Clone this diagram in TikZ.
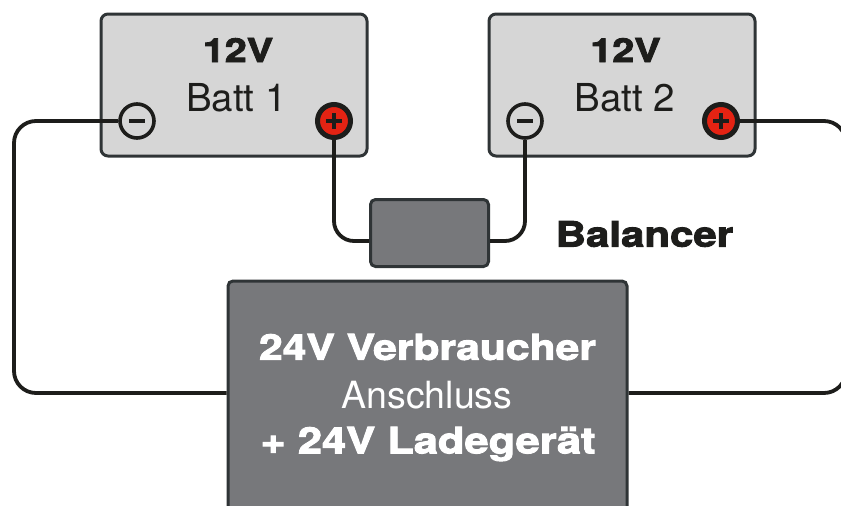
\documentclass[tikz,border=0pt]{standalone}
\usepackage{fontspec}
\setmainfont{TeX Gyre Heros}
\newfontfamily\heavyfont[FakeStretch=1.2,FakeBold=2.6]{TeX Gyre Heros Bold}
\newfontfamily\lightfont{TeX Gyre Heros}
\definecolor{battgray}{HTML}{D6D6D6}
\definecolor{loadgray}{HTML}{77787B}
\definecolor{edgegray}{HTML}{2F3436}
\definecolor{wireblack}{HTML}{1D1D1B}
\definecolor{plusred}{HTML}{E42313}
\tikzset{
  batt/.style={draw=edgegray, line width=3pt, fill=battgray, rounded corners=7pt,
    minimum width=266pt, minimum height=142pt, inner sep=0pt},
  graybox/.style={draw=edgegray, line width=3pt, fill=loadgray, rounded corners=5pt, inner sep=0pt},
  minuspole/.style={circle, draw=wireblack, line width=3.6pt, fill=battgray,
    minimum size=34pt, inner sep=0pt},
  pluspole/.style={circle, draw=wireblack, line width=5pt, fill=plusred,
    minimum size=33pt, inner sep=0pt},
  wire/.style={draw=wireblack, line width=3.8pt},
  sign/.style={draw=wireblack, line width=4pt},
  heavy/.style={font=\heavyfont\fontsize{#1}{#1}\selectfont, inner sep=0pt},
  thin/.style={font=\lightfont\fontsize{#1}{#1}\selectfont, inner sep=0pt}
}
\begin{document}
\begin{tikzpicture}[x=1pt, y=-1pt]
  \useasboundingbox (0,0) rectangle (841,506);
  \clip (0,0) rectangle (841,506);
  % batteries
  \node[batt] (batt1) at (234,85) {};
  \node[batt] (batt2) at (622,85) {};
  \node[heavy=33, text=wireblack] (volt1) at (238,50) {12V};
  \node[thin=38.5, text=wireblack] (name1) at (236.5,98) {Batt 1};
  \node[heavy=33, text=wireblack] (volt2) at (625.5,50) {12V};
  \node[thin=38.5, text=wireblack] (name2) at (625,98) {Batt 2};
  \node[minuspole] (minus1) at (137,121) {};
  \node[pluspole] (plus1) at (334,121) {};
  \node[minuspole] (minus2) at (525,121) {};
  \node[pluspole] (plus2) at (721,121) {};
  \foreach \pole in {minus1,minus2,plus1,plus2}
    \draw[sign] ([xshift=-8pt]\pole.center) -- ([xshift=8pt]\pole.center);
  \foreach \pole in {plus1,plus2}
    \draw[sign] ([yshift=-8pt]\pole.center) -- ([yshift=8pt]\pole.center);
  % balancer and load
  \node[graybox, minimum width=118pt, minimum height=67pt] (bal) at (429.5,233) {};
  \node[heavy=35, text=wireblack, anchor=west] (ballabel) at (555.5,234) {Balancer};
  \node[graybox, minimum width=399pt, minimum height=260pt] (load) at (427.5,411) {};
  \node[heavy=35.5, text=white] (loadtop) at (427.5,347) {24V Verbraucher};
  \node[thin=37.5, text=white] (loadmid) at (427,395) {Anschluss};
  \node[heavy=36.2, text=white] (loadbot) at (428,444) {+ 24V Ladegerät};
  % wires
  \coordinate (lefttop) at (14,121);
  \coordinate (leftbot) at (14,393);
  \coordinate (righttop) at (846,121);
  \coordinate (rightbot) at (846,393);
  \coordinate (balleft) at (334,241);
  \coordinate (balright) at (525,241);
  \draw[wire, rounded corners=22pt] (minus1.west) -- (lefttop) -- (leftbot) -- (load.west |- leftbot);
  \draw[wire, rounded corners=22pt] (plus2.east) -- (righttop) -- (rightbot) -- (load.east |- rightbot);
  \draw[wire, rounded corners=20pt] (plus1.south) -- (balleft) -- (bal.west |- balleft);
  \draw[wire, rounded corners=20pt] (minus2.south) -- (balright) -- (bal.east |- balright);
\end{tikzpicture}
\end{document}
